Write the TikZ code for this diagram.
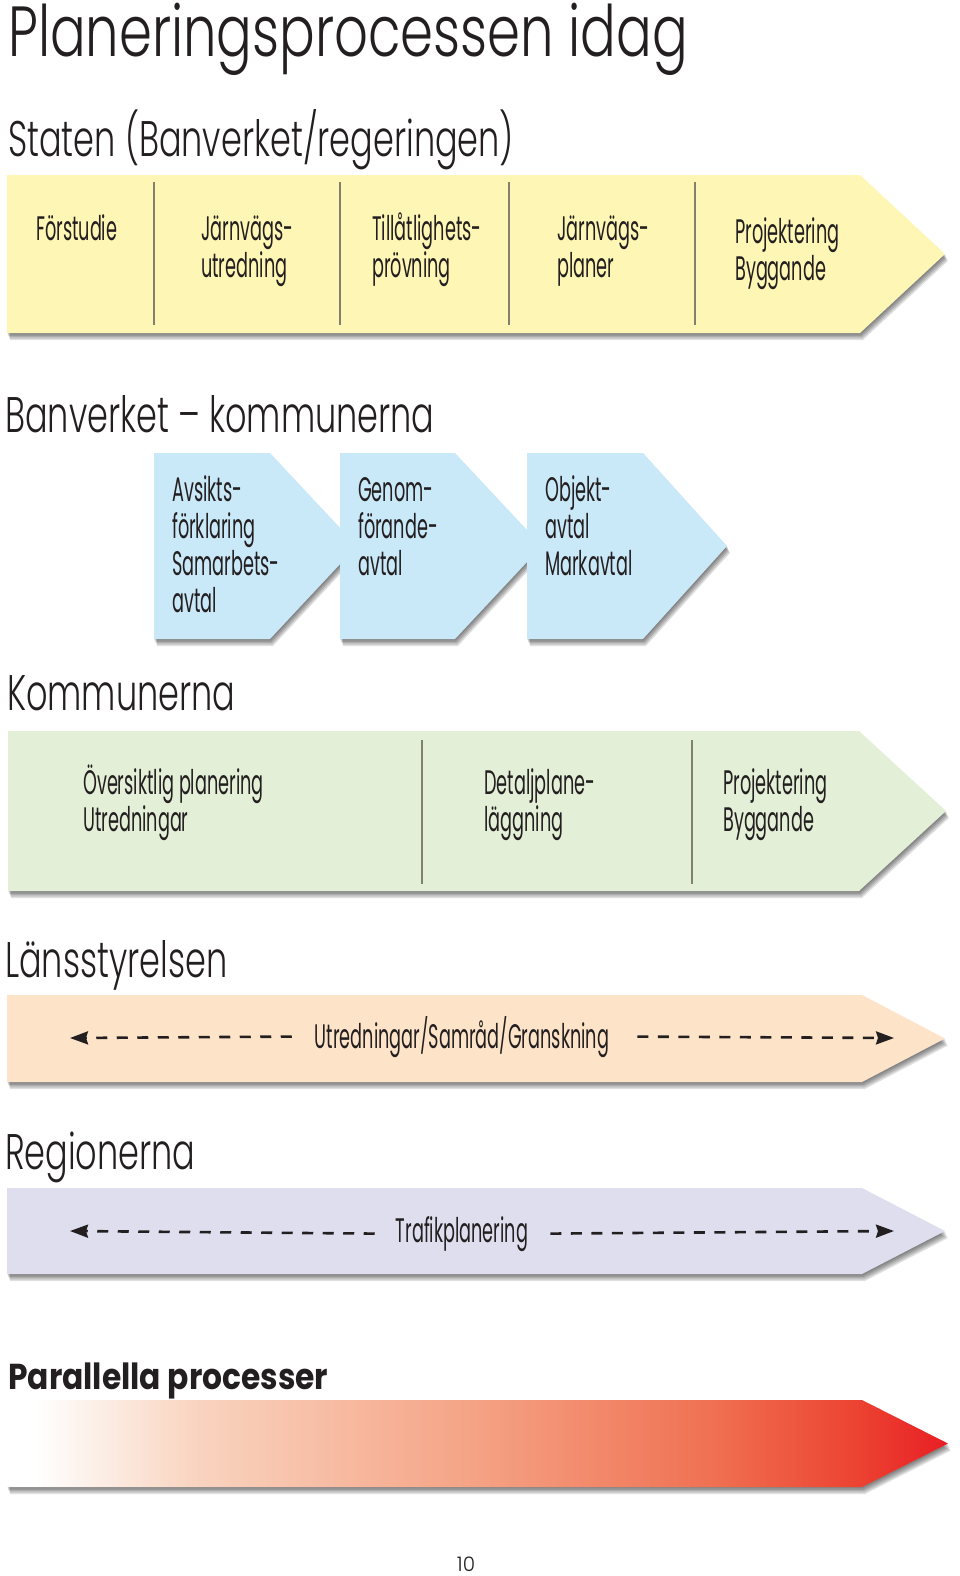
\documentclass[tikz,border=0pt]{standalone}
\usepackage{fontspec}
\setmainfont{Poppins}
\newfontfamily\condfont[FakeStretch=0.52]{Poppins}
\newfontfamily\titlefont[FakeStretch=0.745, UprightFont={* Light}]{Poppins}
\newfontfamily\headfont[FakeStretch=0.67, UprightFont={* Light}]{Poppins}
\newfontfamily\pagefont[UprightFont={* Light}]{Poppins}
\newfontfamily\boldhead[FakeStretch=0.87]{Poppins}
\usetikzlibrary{arrows.meta}
\definecolor{txt}{RGB}{35,31,32}
\definecolor{cyellow}{RGB}{254,246,181}
\definecolor{cblue}{RGB}{201,232,248}
\definecolor{cgreen}{RGB}{227,239,214}
\definecolor{corange}{RGB}{253,227,200}
\definecolor{cpurple}{RGB}{222,222,238}
\definecolor{cdiv}{RGB}{130,128,110}
\definecolor{rfa}{RGB}{249,212,192}
\definecolor{rfb}{RGB}{245,162,132}
\definecolor{rfc}{RGB}{240,112,82}
\definecolor{rfd}{RGB}{236,68,50}
\definecolor{rfe}{RGB}{232,30,36}
\pgfdeclarehorizontalshading{redfade}{100bp}{color(0bp)=(white); color(25bp)=(white); color(26.5bp)=(white); color(35bp)=(rfa); color(50bp)=(rfb); color(62.5bp)=(rfc); color(70bp)=(rfd); color(75bp)=(rfe); color(100bp)=(rfe)}
\newcommand\chev[5]{(#1,#2) -- (#3,#2) -- (#4,{(#2+#5)/2}) -- (#3,#5) -- (#1,#5) -- cycle}
\newcommand\fs{\rule{0pt}{34pt}}
\begin{document}
\begin{tikzpicture}[x=1pt,y=-1pt,
  cond/.style={font=\condfont\fontsize{34}{37}\selectfont, text=txt, inner sep=0pt, anchor=north west, align=left},
  condc/.style={font=\condfont\fontsize{34}{37}\selectfont, text=txt, inner sep=0pt, anchor=base},
  head/.style={font=\headfont\fontsize{50}{56}\selectfont, text=txt, inner sep=0pt, anchor=base west},
  divider/.style={draw=cdiv, line width=1.3pt},
  shadowcopy/.style={fill=black, opacity=0.12},
  dasharrow/.style={draw=txt, line width=2.6pt, dash pattern=on 11pt off 9.5pt, -{Stealth[length=18pt,width=13pt,inset=2pt]}},
]
\useasboundingbox (0,0) rectangle (960,1576);

% ---------- Staten (yellow) ----------
\foreach \s in {1,...,5} \fill[shadowcopy, shift={(0.6*\s,1.4*\s)}] \chev{7}{175}{860}{945}{333};
\fill[cyellow] \chev{7}{175}{860}{945}{333};
\draw[divider] (154,182) -- (154,325);
\draw[divider] (340,182) -- (340,325);
\draw[divider] (509,182) -- (509,325);
\draw[divider] (695,182) -- (695,325);

% ---------- Banverket - kommunerna (blue) ----------
\foreach \s in {1,...,5} \fill[shadowcopy, shift={(0.6*\s,1.4*\s)}] \chev{154}{453}{270}{357}{639};
\fill[cblue] \chev{154}{453}{270}{357}{639};
\foreach \s in {1,...,5} \fill[shadowcopy, shift={(0.6*\s,1.4*\s)}] \chev{340}{453}{455}{542}{639};
\fill[cblue] \chev{340}{453}{455}{542}{639};
\foreach \s in {1,...,5} \fill[shadowcopy, shift={(0.6*\s,1.4*\s)}] \chev{527}{453}{643}{727}{639};
\fill[cblue] \chev{527}{453}{643}{727}{639};

% ---------- Kommunerna (green) ----------
\foreach \s in {1,...,5} \fill[shadowcopy, shift={(0.6*\s,1.4*\s)}] \chev{8}{731}{859}{946}{891};
\fill[cgreen] \chev{8}{731}{859}{946}{891};
\draw[divider] (422,740) -- (422,884);
\draw[divider] (692,740) -- (692,884);

% ---------- Laensstyrelsen (orange) ----------
\foreach \s in {1,...,5} \fill[shadowcopy, shift={(0.6*\s,1.4*\s)}] \chev{7}{995}{862}{945}{1082};
\fill[corange] \chev{7}{995}{862}{945}{1082};

% ---------- Regionerna (purple) ----------
\foreach \s in {1,...,5} \fill[shadowcopy, shift={(0.6*\s,1.4*\s)}] \chev{7}{1188}{862}{945}{1274};
\fill[cpurple] \chev{7}{1188}{862}{945}{1274};

% ---------- Parallella processer (red gradient) ----------
\foreach \s in {1,...,5} \fill[shadowcopy, shift={(0.6*\s,1.4*\s)}] \chev{7}{1400}{862}{948}{1487};
\shade[shading=redfade] \chev{7}{1400}{862}{948}{1487};

% ---------- headings ----------
\node[head, font=\titlefont\fontsize{71}{80}\selectfont] (title) at (8,57) {Planeringsprocessen idag};
\node[head] (hstat) at (8,156) {Staten (Banverket/regeringen)};
\node[head] (hbk) at (5,432) {Banverket – kommunerna};
\node[head] (hkom) at (7,710) {Kommunerna};
\node[head] (hlan) at (5,977) {Länsstyrelsen};
\node[head] (hreg) at (5,1169) {Regionerna};
\node[head, font=\boldhead\bfseries\fontsize{36}{40}\selectfont] (hpar) at (8,1389) {Parallella processer};

% ---------- yellow texts ----------
\node[cond] (y1) at (36,240-34) {\fs Förstudie};
\node[cond] (y2) at (201,240-34) {\fs Järnvägs-\\utredning};
\node[cond] (y3) at (372,240-34) {\fs Tillåtlighets-\\prövning};
\node[cond] (y4) at (557,240-34) {\fs Järnvägs-\\planer};
\node[cond] (y5) at (735,243-34) {\fs Projektering\\Byggande};

% ---------- blue texts ----------
\node[cond] (b1) at (172,501-34) {\fs Avsikts-\\förklaring\\Samarbets-\\avtal};
\node[cond] (b2) at (358,501-34) {\fs Genom-\\förande-\\avtal};
\node[cond] (b3) at (545,501-34) {\fs Objekt-\\avtal\\Markavtal};

% ---------- green texts ----------
\node[cond] (g1) at (83,794-34) {\fs Översiktlig planering\\Utredningar};
\node[cond] (g2) at (484,794-34) {\fs Detaljplane-\\läggning};
\node[cond] (g3) at (723,794-34) {\fs Projektering\\Byggande};

% ---------- orange ----------
\node[condc] (otx) at (462,1048) {Utredningar/Samråd/Granskning};
\coordinate (oL) at (70,1038);
\coordinate (oR) at (894,1038);
\draw[dasharrow] ([xshift=-23pt]otx.west) -- (oL);
\draw[dasharrow] ([xshift=28pt]otx.east) -- (oR);

% ---------- purple ----------
\node[condc] (ptx) at (462,1242) {Trafikplanering};
\coordinate (pL) at (70,1231);
\coordinate (pR) at (894,1231);
\draw[dasharrow] ([xshift=-21pt]ptx.west) -- (pL);
\draw[dasharrow] ([xshift=22pt]ptx.east) -- (pR);

% ---------- page number ----------
\node[head, font=\pagefont\fontsize{20}{22}\selectfont, anchor=base] (pg) at (466,1571) {10};
\end{tikzpicture}
\end{document}
